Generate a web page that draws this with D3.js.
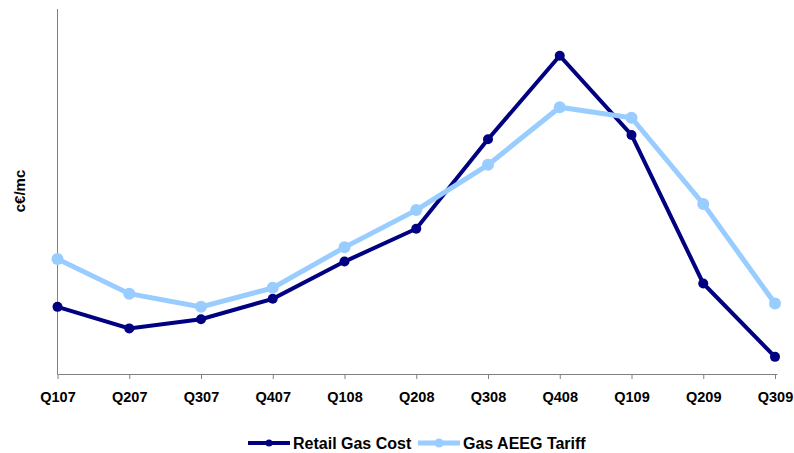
<!DOCTYPE html>
<html>
<head>
<meta charset="utf-8">
<script src="https://cdn.jsdelivr.net/npm/d3@7"></script>
<style>
  body { margin: 0; background: #fff; }
  svg { display: block; font-family: "Liberation Sans", Arial, sans-serif; }
</style>
</head>
<body>
<div id="chart"></div>
<script>
const quarters = ["Q107", "Q207", "Q307", "Q407", "Q108", "Q208", "Q308", "Q408", "Q109", "Q209", "Q309"];
const retailGasCost = [18.4, 12.5, 15.0, 20.6, 30.8, 39.8, 64.3, 87.2, 65.5, 24.8, 4.7];
const gasAeegTariff = [31.5, 22.0, 18.4, 23.6, 34.7, 44.9, 57.3, 73.1, 70.2, 46.6, 19.3];

const series = [
  { name: "Retail Gas Cost", values: retailGasCost, color: "#000080", width: 4, r: 5 },
  { name: "Gas AEEG Tariff", values: gasAeegTariff, color: "#99CCFF", width: 5, r: 6 }
];

const width = 794, height = 453;
const svg = d3.select("#chart").append("svg")
  .attr("width", width)
  .attr("height", height);

const x = d3.scalePoint().domain(quarters).range([57.5, 775]);
const y = d3.scaleLinear().domain([0, 100]).range([374, 9]);

// axes
svg.append("line")
  .attr("x1", 57.5).attr("x2", 57.5)
  .attr("y1", y(100)).attr("y2", y(0))
  .attr("stroke", "#808080").attr("stroke-width", 1);

const xAxis = svg.append("g")
  .attr("transform", `translate(0,${y(0)})`)
  .call(d3.axisBottom(x).tickSize(5).tickPadding(13));
xAxis.select(".domain").attr("d", `M57.5,0.5H777.5`).attr("stroke", "#808080");
xAxis.selectAll(".tick line").attr("stroke", "#808080");
xAxis.selectAll("text")
  .attr("fill", "#000")
  .style("font-size", "14.5px")
  .style("font-weight", "bold");

svg.append("text")
  .attr("transform", `translate(25,191) rotate(-90)`)
  .attr("text-anchor", "middle")
  .style("font-size", "15px")
  .style("font-weight", "bold")
  .text("c€/mc");

const line = d3.line()
  .x((d, i) => x(quarters[i]))
  .y(d => y(d));

series.forEach(s => {
  const g = svg.append("g");
  g.append("path")
    .datum(s.values)
    .attr("fill", "none")
    .attr("stroke", s.color)
    .attr("stroke-width", s.width)
    .attr("stroke-linejoin", "miter")
    .attr("d", line);
  g.selectAll("circle")
    .data(s.values)
    .join("circle")
    .attr("cx", (d, i) => x(quarters[i]))
    .attr("cy", d => y(d))
    .attr("r", s.r)
    .attr("fill", s.color);
});

// legend
const legendPos = [{ x: 248, tx: 293 }, { x: 418, tx: 463 }];
const legend = svg.append("g").attr("transform", "translate(0,443)");
series.forEach((s, i) => {
  const p = legendPos[i];
  legend.append("line")
    .attr("x1", p.x).attr("x2", p.x + 42)
    .attr("y1", 0).attr("y2", 0)
    .attr("stroke", s.color).attr("stroke-width", s.width);
  legend.append("circle")
    .attr("cx", p.x + 21).attr("cy", 0).attr("r", s.r - 1.5)
    .attr("fill", s.color);
  legend.append("text")
    .attr("x", p.tx).attr("y", 0)
    .attr("dy", "0.35em")
    .style("font-size", "16px")
    .style("font-weight", "bold")
    .text(s.name);
});
</script>
</body>
</html>
